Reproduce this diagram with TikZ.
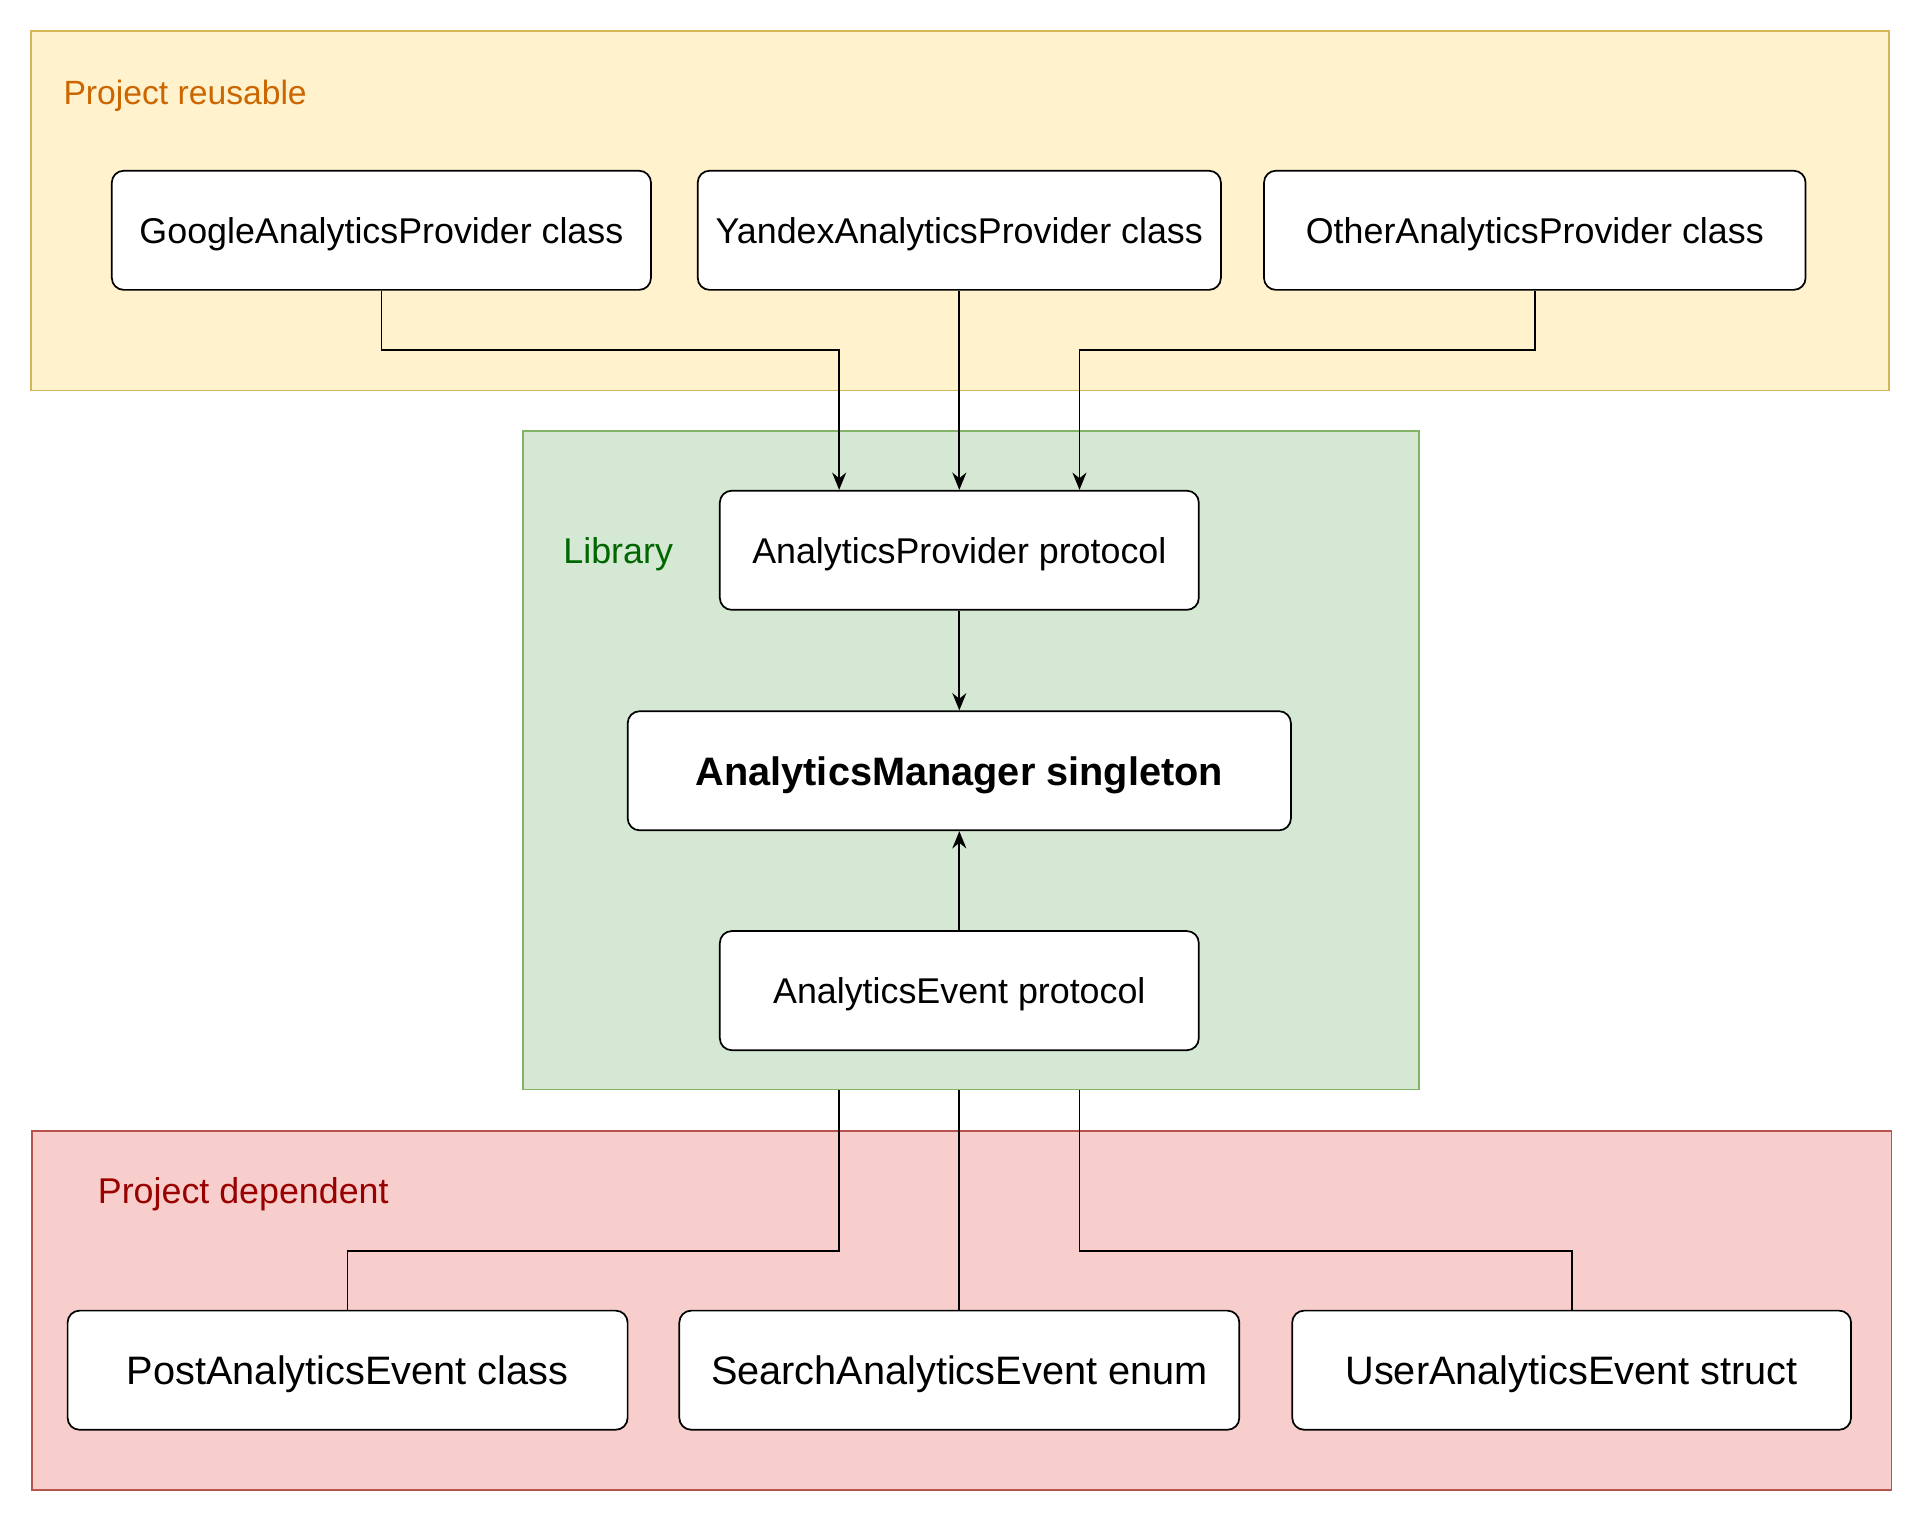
\documentclass[tikz,border=0pt]{standalone}
\usepackage{fontspec}
\setmainfont{Liberation Sans}
\usepackage{tikz}
\usetikzlibrary{arrows.meta,positioning,calc}
\definecolor{reusefill}{HTML}{FFF2CC}
\definecolor{reusedraw}{HTML}{D6B656}
\definecolor{reusetext}{HTML}{CC6600}
\definecolor{libfill}{HTML}{D5E8D4}
\definecolor{libdraw}{HTML}{82B366}
\definecolor{libtext}{HTML}{006600}
\definecolor{depfill}{HTML}{F8CECC}
\definecolor{depdraw}{HTML}{B85450}
\definecolor{deptext}{HTML}{990000}
\tikzstyle{group} = [rectangle,inner sep=0pt,line width=0.8pt]
\tikzstyle{block} = [rectangle,rounded corners=5.5pt,draw=black,fill=white,line width=0.8pt,
  minimum height=1.94cm,inner sep=0pt,text height=12pt,text depth=0pt,font=\fontsize{16.6}{20}\selectfont]
\tikzstyle{bigblock} = [block,text height=13.3pt,font=\fontsize{18.4}{22}\selectfont]
\tikzstyle{grouplabel} = [anchor=west,inner sep=0pt,text height=11.5pt,text depth=0pt,font=\fontsize{16.6}{20}\selectfont]
\tikzset{>={Stealth[length=8pt,width=6.5pt]}}

\begin{document}
\begin{tikzpicture}[x=0.02cm,y=-0.02cm,line width=0.8pt]
    \useasboundingbox (0,0) rectangle (1568,1239);

    \node [group,draw=reusedraw,fill=reusefill,minimum width=30.26cm,minimum height=5.86cm] (reusable) at (781.5,171.5) {};
    \node [group,draw=libdraw,fill=libfill,minimum width=14.58cm,minimum height=10.72cm] (lib) at (790.5,619) {};
    \node [group,draw=depdraw,fill=depfill,minimum width=30.28cm,minimum height=5.84cm] (dependent) at (783,1067) {};

    \node [grouplabel,text=reusetext,font=\fontsize{15.6}{19}\selectfont] (reusablelabel) at (51,75) {Project reusable};
    \node [grouplabel,text=libtext] (liblabel) at (458,449) {Library};
    \node [grouplabel,text=deptext] (dependentlabel) at (79,970) {Project dependent};

    \node [block,minimum width=8.78cm] (google) at (310.5,187.5) {GoogleAnalyticsProvider class};
    \node [block,minimum width=8.52cm] (yandex) at (781,187.5) {YandexAnalyticsProvider class};
    \node [block,minimum width=8.82cm] (other) at (1249.5,187.5) {OtherAnalyticsProvider class};

    \node [block,minimum width=7.8cm] (prov) at (781,448) {AnalyticsProvider protocol};
    \node [bigblock,minimum width=10.8cm,font=\fontsize{18.4}{22}\selectfont\bfseries] (mgr) at (781,627.5) {AnalyticsManager singleton};
    \node [block,minimum width=7.8cm] (event) at (781,806.5) {AnalyticsEvent protocol};

    \node [bigblock,minimum width=9.12cm] (post) at (283,1115.5) {PostAnalyticsEvent class};
    \node [bigblock,minimum width=9.12cm] (search) at (781,1115.5) {SearchAnalyticsEvent enum};
    \node [bigblock,minimum width=9.1cm] (user) at (1279.5,1115.5) {UserAnalyticsEvent struct};

    \coordinate (pin1) at ($(prov.north west)!0.25!(prov.north east)$);
    \coordinate (pin3) at ($(prov.north west)!0.75!(prov.north east)$);

    \draw [->] (google.south) -- ++(0,48.5) -| (pin1);
    \draw [->] (yandex.south) -- (prov.north);
    \draw [->] (other.south) -- ++(0,48.5) -| (pin3);
    \draw [->] (prov.south) -- (mgr.north);
    \draw [->] (event.north) -- (mgr.south);

    \draw (lib.south -| pin1) -- ++(0,131) -| (post.north);
    \draw (lib.south -| event.south) -- (search.north);
    \draw (lib.south -| pin3) -- ++(0,131) -| (user.north);
\end{tikzpicture}
\end{document}
